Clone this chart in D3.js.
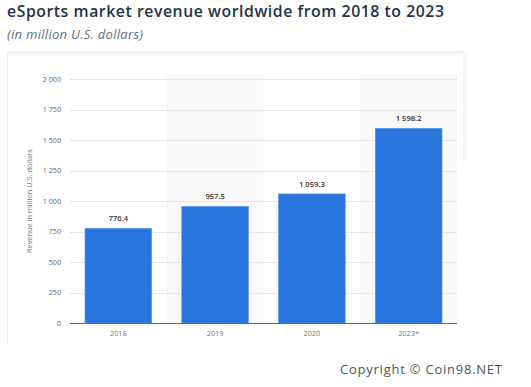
<!DOCTYPE html>
<html>
<head>
<meta charset="utf-8">
<title>eSports market revenue</title>
<script src="https://cdn.jsdelivr.net/npm/d3@7"></script>
<style>
	body, html { margin: 0; padding: 0; background: #fff; }
	svg text { font-family: "Open Sans", sans-serif; }
</style>
</head>
<body>
<svg id="chart" width="531" height="387"></svg>
<script>
	// data
	var years = ["2018", "2019", "2020", "2023*"];
	var revenue = [776.4, 957.5, 1059.3, 1598.2];
	var yTicks = [0, 250, 500, 750, 1000, 1250, 1500, 1750, 2000];

	(function() {
	var svg = d3.select("#chart");
	var fmt = function(v) {
		// space as thousands separator, like the original
		return d3.format(",")(v).replace(/,/g, " ");
	};
	var fmtVal = function(v) {
		return d3.format(",.1f")(v).replace(/,/g, " ");
	};

	// title block
	svg.append("text")
		.attr("x", 7).attr("y", 17)
		.attr("font-size", 15.8).attr("font-weight", 600)
		.attr("fill", "#253446")
		.attr("textLength", 437).attr("lengthAdjust", "spacing")
		.text("eSports market revenue worldwide from 2018 to 2023");
	svg.append("text")
		.attr("x", 7).attr("y", 39)
		.attr("font-size", 13).attr("font-style", "italic")
		.attr("fill", "#5c6e86")
		.attr("textLength", 136).attr("lengthAdjust", "spacing")
		.text("(in million U.S. dollars)");

	// frame: faint shadow at top and left border
	var defs = svg.append("defs");
	var g1 = defs.append("linearGradient").attr("id", "topShade")
		.attr("x1", 0).attr("y1", 0).attr("x2", 0).attr("y2", 1);
	g1.append("stop").attr("offset", 0).attr("stop-color", "#eef0f4");
	g1.append("stop").attr("offset", 1).attr("stop-color", "#ffffff");
	svg.append("rect").attr("x", 7).attr("y", 51).attr("width", 456).attr("height", 7)
		.attr("fill", "url(#topShade)");
	var g2 = defs.append("linearGradient").attr("id", "rightShade")
		.attr("x1", 0).attr("y1", 0).attr("x2", 1).attr("y2", 0);
	g2.append("stop").attr("offset", 0).attr("stop-color", "#f3f4f6");
	g2.append("stop").attr("offset", 1).attr("stop-color", "#ffffff");
	svg.append("rect").attr("x", 463).attr("y", 51).attr("width", 6).attr("height", 110)
		.attr("fill", "url(#rightShade)");
	svg.append("line")
		.attr("x1", 7.5).attr("x2", 7.5).attr("y1", 52).attr("y2", 343)
		.attr("stroke", "#ececec");

	var pLeft = 70, pRight = 457, pTop = 79.3, pBottom = 323;

	var x = d3.scaleBand().domain(years).range([pLeft, pRight]).padding(0);
	var y = d3.scaleLinear().domain([0, 2000]).range([pBottom, pTop]);

	// alternating band shading
	svg.append("g").selectAll("rect")
		.data(years.filter(function(d, i) { return i % 2 === 1; }))
		.enter().append("rect")
		.attr("x", function(d) { return x(d); })
		.attr("y", pTop - 5)
		.attr("width", x.bandwidth())
		.attr("height", pBottom - pTop + 5)
		.attr("fill", "#fafafa");

	// gridlines
	svg.append("g").selectAll("line")
		.data(yTicks.slice(1))
		.enter().append("line")
		.attr("x1", pLeft).attr("x2", pRight)
		.attr("y1", function(d) { return Math.round(y(d)) + 0.5; })
		.attr("y2", function(d) { return Math.round(y(d)) + 0.5; })
		.attr("stroke", "#e2e2e2")
		.attr("stroke-dasharray", "3,1");

	// y tick labels
	svg.append("g").selectAll("text")
		.data(yTicks)
		.enter().append("text")
		.attr("x", 61)
		.attr("y", function(d) { return y(d); })
		.attr("dy", "0.35em")
		.attr("text-anchor", "end")
		.attr("font-size", 7.2)
		.attr("fill", "#666")
		.text(fmt);

	// y axis title
	svg.append("text")
		.attr("transform", "translate(32," + ((pTop + pBottom) / 2) + ") rotate(-90)")
		.attr("text-anchor", "middle")
		.attr("font-size", 7.4)
		.attr("fill", "#777")
		.text("Revenue in million U.S. dollars");

	// bars
	var barW = x.bandwidth() * 0.69;
	var bars = svg.append("g").selectAll("g")
		.data(years)
		.enter().append("g");

	bars.append("rect")
		.attr("x", function(d) { return x(d) + (x.bandwidth() - barW) / 2; })
		.attr("y", function(d, i) { return y(revenue[i]); })
		.attr("width", barW)
		.attr("height", function(d, i) { return pBottom - y(revenue[i]); })
		.attr("fill", "#2876dd")
		.attr("stroke", "#5b9bef")
		.attr("stroke-width", 0.6);

	bars.append("text")
		.attr("x", function(d) { return x(d) + x.bandwidth() / 2; })
		.attr("y", function(d, i) { return y(revenue[i]) - 7; })
		.attr("text-anchor", "middle")
		.attr("font-size", 7.6)
		.attr("font-weight", 600)
		.attr("fill", "#333")
		.text(function(d, i) { return fmtVal(revenue[i]); });

	// x axis baseline + labels
	svg.append("line")
		.attr("x1", pLeft).attr("x2", pRight)
		.attr("y1", pBottom + 0.5).attr("y2", pBottom + 0.5)
		.attr("stroke", "#666").attr("stroke-width", 1);

	svg.append("g").selectAll("text")
		.data(years)
		.enter().append("text")
		.attr("x", function(d) { return x(d) + x.bandwidth() / 2; })
		.attr("y", pBottom + 13)
		.attr("text-anchor", "middle")
		.attr("font-size", 7.4)
		.attr("fill", "#777")
		.text(function(d) { return d; });

	// watermark
	svg.append("text")
		.attr("x", 340).attr("y", 374)
		.attr("font-size", 13)
		.attr("fill", "#555")
		.attr("font-family", "Lato, sans-serif")
		.attr("textLength", 162).attr("lengthAdjust", "spacing")
		.text("Copyright \u00a9 Coin98.NET");
	})();
</script>
</body>
</html>
